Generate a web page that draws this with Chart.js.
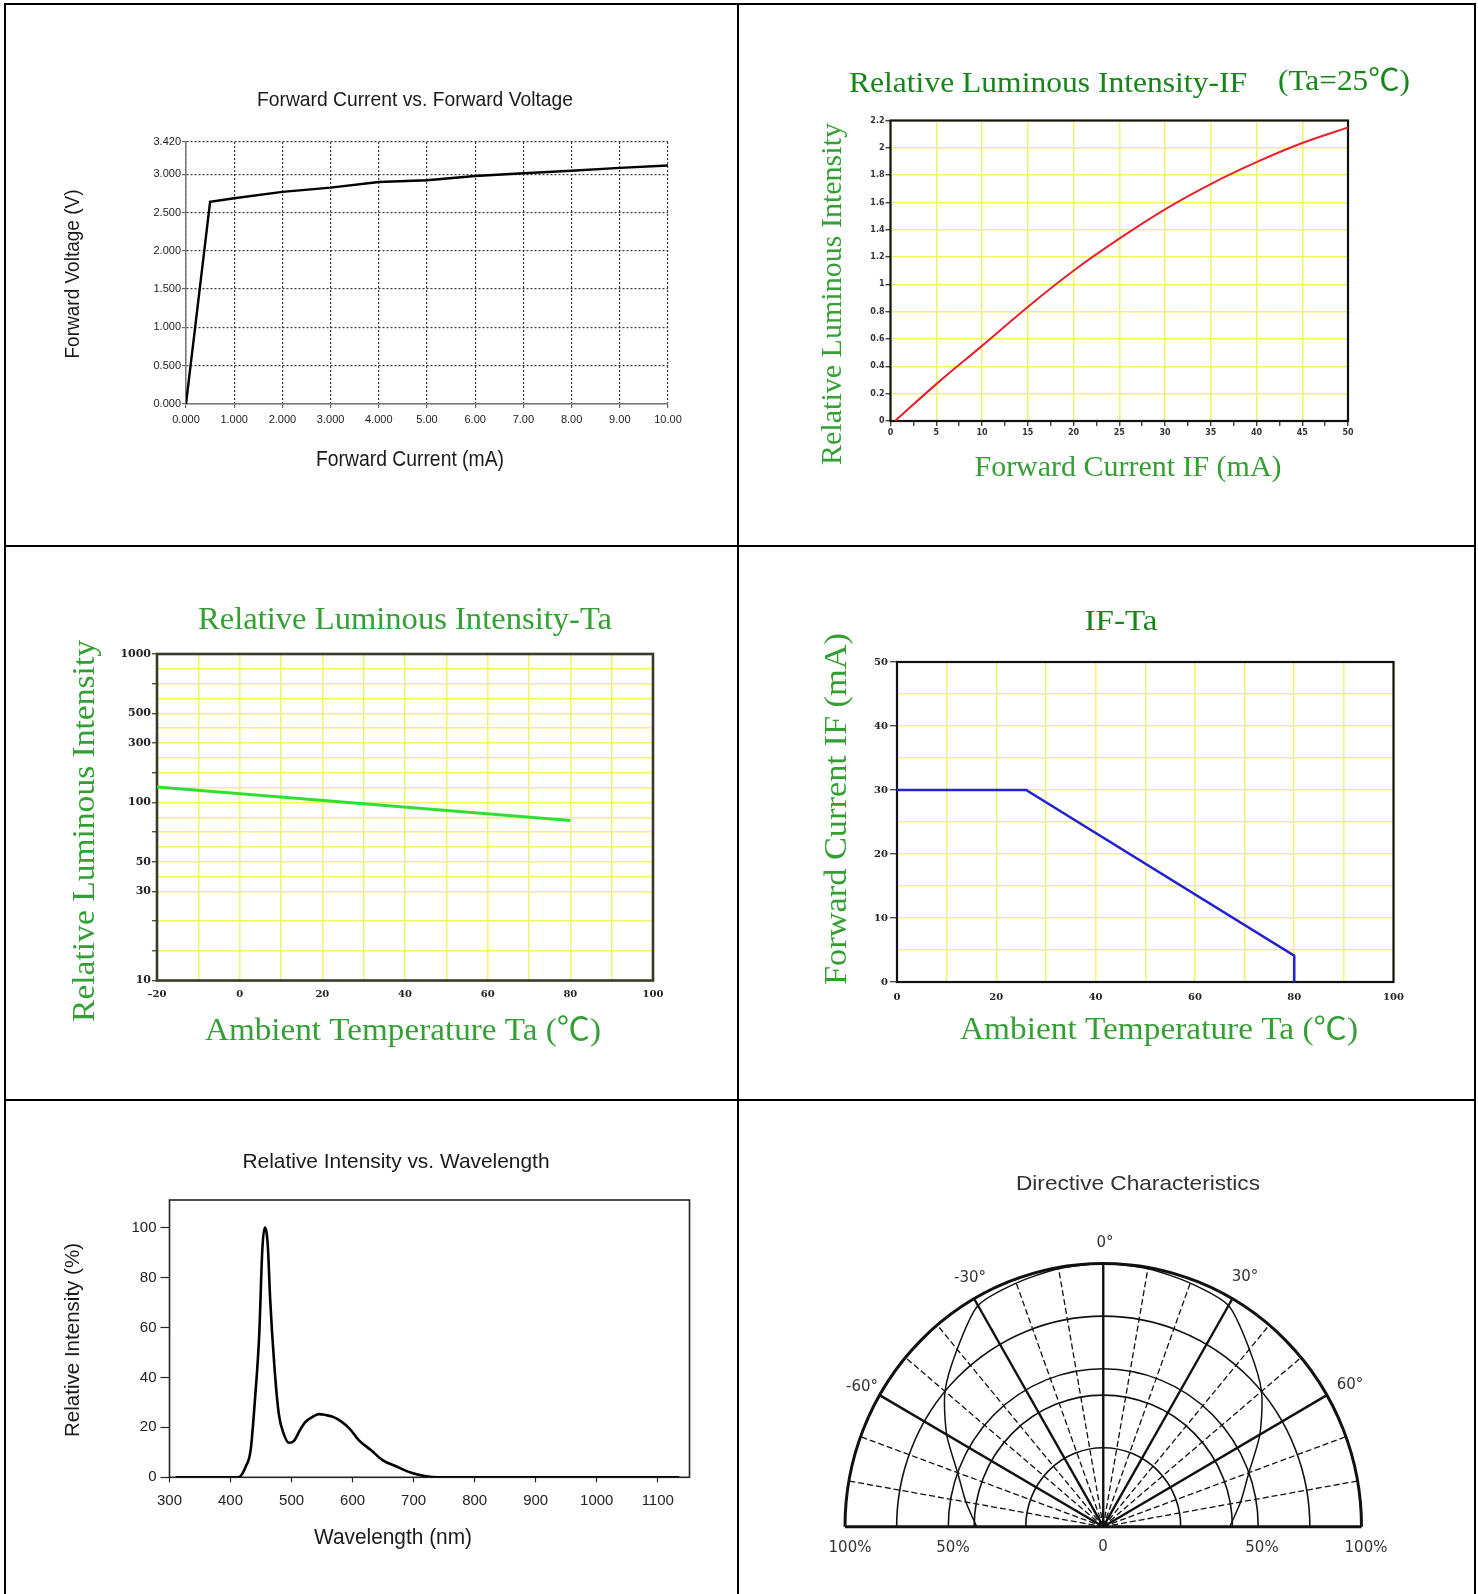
<!DOCTYPE html>
<html><head><meta charset="utf-8">
<script src="https://cdn.jsdelivr.net/npm/chart.js@4.4.1/dist/chart.umd.min.js"></script>
<style>
html,body{margin:0;padding:0;background:#fff;}
#page{position:relative;width:1478px;height:1594px;overflow:hidden;background:#fff;}
canvas{position:absolute;}
.ln{position:absolute;background:#000;z-index:5;}
</style></head><body><div id="page">
<canvas id="c1" width="738" height="546" style="left:0px;top:0px"></canvas>
<canvas id="c2" width="740" height="546" style="left:738px;top:0px"></canvas>
<canvas id="c3" width="738" height="554" style="left:0px;top:546px"></canvas>
<canvas id="c4" width="740" height="554" style="left:738px;top:546px"></canvas>
<canvas id="c5" width="738" height="494" style="left:0px;top:1100px"></canvas>
<canvas id="c6" width="740" height="494" style="left:738px;top:1100px"></canvas>
<div class="ln" style="left:4px;top:3px;width:1472px;height:2px"></div>
<div class="ln" style="left:4px;top:3px;width:2px;height:1591px"></div>
<div class="ln" style="left:1474px;top:3px;width:2px;height:1591px"></div>
<div class="ln" style="left:737px;top:3px;width:2px;height:1591px"></div>
<div class="ln" style="left:4px;top:545px;width:1472px;height:2px"></div>
<div class="ln" style="left:4px;top:1099px;width:1472px;height:2px"></div>
</div>
<script>
// ---------- DATA ----------
// 1. Forward Current vs. Forward Voltage
const fvCurrent = [0, 0.5, 1, 2, 3, 4, 5, 6, 7, 8, 9, 10];
const fvVoltage = [0, 2.64, 2.686, 2.769, 2.824, 2.898, 2.921, 2.976, 3.013, 3.045, 3.082, 3.114];
const fvXTicks = [0, 1, 2, 3, 4, 5, 6, 7, 8, 9, 10];
const fvXTickLabels = ['0.000','1.000','2.000','3.000','4.000','5.00','6.00','7.00','8.00','9.00','10.00'];
const fvYTicks = [0, 0.5, 1.0, 1.5, 2.0, 2.5, 3.0, 3.42];
const fvYTickLabels = ['0.000','0.500','1.000','1.500','2.000','2.500','3.000','3.420'];

// 2. Relative Luminous Intensity - IF
const livCurrent = [0.5, 5, 10, 15, 20, 25, 30, 35, 40, 45, 50];
const livIntensity = [0, 0.27, 0.55, 0.835, 1.10, 1.335, 1.55, 1.735, 1.895, 2.035, 2.15];

// 3. Relative Luminous Intensity - Ta
const litTemp = [-20, 80];
const litIntensity = [133, 81];
const litYTickValues = [1000, 500, 300, 100, 50, 30, 10];
const litYTickSlots = [0, 2, 3, 5, 7, 8, 11];
const litYTickLabels = ['1000', '500', '300', '100', '50', '30', '10'];
const litXTickValues = [-20, 0, 20, 40, 60, 80, 100];
const litXTickLabels = ['\u201320', '0', '20', '40', '60', '80', '100'];

// 4. IF - Ta
const ifTemp = [0, 26, 80, 80];
const ifCurrent = [30, 30, 4.1, 0];

// 5. Relative Intensity vs. Wavelength
const specWl = [310, 413, 425, 433, 440, 447, 452, 456, 461, 465, 472, 479, 487, 496, 504, 514, 522, 533, 545, 556, 568, 580, 595, 610, 630, 649, 672, 695, 718, 740, 1135];
const specVal = [0, 0, 4.3, 11, 31, 57, 90.7, 100, 93, 71, 44, 25.5, 17.5, 13.8, 14.6, 19, 22, 24, 25.3, 24.9, 24.2, 22.6, 19.5, 14.9, 10.9, 6.9, 4.3, 1.9, 0.5, 0, 0];
const specXTicks = [300, 400, 500, 600, 700, 800, 900, 1000, 1100];
const specYTicks = [0, 20, 40, 60, 80, 100];

// 6. Directive Characteristics
const dirAngles = [-90, -80, -70, -60, -50, -40, -30, -20, -10, 0, 10, 20, 30, 40, 50, 60, 70, 80, 90];
const dirIntensity = [0.49, 0.54, 0.60, 0.70, 0.80, 0.88, 0.97, 0.985, 0.995, 1.0, 0.995, 0.985, 0.97, 0.88, 0.80, 0.70, 0.60, 0.54, 0.49];
const dirRings = [0.3, 0.5, 0.6, 0.8, 1.0];
const dirSpokes = [-80, -70, -60, -50, -40, -30, -20, -10, 0, 10, 20, 30, 40, 50, 60, 70, 80];

// ---------- HELPERS ----------
const SANSN = "'Liberation Sans Narrow','Arial Narrow','Liberation Sans',Arial,sans-serif";
const SANS = "'Liberation Sans',Arial,sans-serif";
const SERIF = "'Liberation Serif','Times New Roman','Noto Sans CJK SC',serif";
const GREEN_D = '#16861a';
const GREEN_L = '#34a034';
const YEL = '#f3f36a';
const NONE = 'rgba(0,0,0,0)';
const YW = 60, XH = 40;

function pts(xs, ys) { return xs.map((x, i) => ({x: x, y: ys[i]})); }

function textPlugin(items, cell) {
  return {
    id: 'texts',
    afterDraw(chart) {
      const ctx = chart.ctx;
      for (const t of items) {
        ctx.save();
        ctx.font = t.font;
        ctx.fillStyle = t.color || '#222';
        ctx.textAlign = t.align || 'center';
        ctx.textBaseline = 'middle';
        ctx.translate(t.x - cell.x, t.y - cell.y);
        if (t.rot) ctx.rotate(t.rot * Math.PI / 180);
        if (t.w) { const m = ctx.measureText(t.text).width; ctx.scale(t.w / m, 1); }
        ctx.fillText(t.text, 0, 0);
        ctx.restore();
      }
    }
  };
}
function framePlugin(color, width) {
  return {
    id: 'frame',
    beforeDatasetsDraw(chart) {
      const a = chart.chartArea, ctx = chart.ctx;
      ctx.save(); ctx.strokeStyle = color; ctx.lineWidth = width;
      ctx.strokeRect(a.left, a.top, a.right - a.left, a.bottom - a.top);
      ctx.restore();
    }
  };
}
function makeChart(id, cell, plot, yw, xh, datasets, scales, texts, plugins) {
  const padding = {left: plot.l - cell.x - yw, top: plot.t - cell.y, right: cell.x + cell.w - plot.r, bottom: cell.y + cell.h - plot.b - xh};
  if (scales.x.display !== false) scales.x.afterFit = s => { s.height = xh; };
  if (scales.y.display !== false) scales.y.afterFit = s => { s.width = yw; };
  return new Chart(document.getElementById(id), {
    type: 'line',
    data: {datasets: datasets},
    options: {
      responsive: false, animation: false, devicePixelRatio: 1, events: [],
      layout: {padding: padding}, scales: scales,
      plugins: {legend: {display: false}, tooltip: {enabled: false}, title: {display: false}}
    },
    plugins: (plugins || []).concat([textPlugin(texts, cell)])
  });
}

// ---------- custom piecewise-log scale for chart 3 ----------
const LIT_SLOTS = 11;
const L10 = Math.log10;
function litValueToSlot(v) {
  const vals = litYTickValues, sl = litYTickSlots;
  for (let i = 0; i < vals.length - 1; i++) {
    if (v <= vals[i] && v >= vals[i + 1]) {
      const f = (L10(vals[i]) - L10(v)) / (L10(vals[i]) - L10(vals[i + 1]));
      return sl[i] + f * (sl[i + 1] - sl[i]);
    }
  }
  return v > vals[0] ? sl[0] : sl[sl.length - 1];
}
function litSlotToValue(s) {
  const vals = litYTickValues, sl = litYTickSlots;
  for (let i = 0; i < sl.length - 1; i++) {
    if (s >= sl[i] && s <= sl[i + 1]) {
      const f = (s - sl[i]) / (sl[i + 1] - sl[i]);
      return Math.pow(10, L10(vals[i]) + f * (L10(vals[i + 1]) - L10(vals[i])));
    }
  }
  return s < 0 ? vals[0] : vals[vals.length - 1];
}
const litGridSlots = [];
for (let s = 0; s <= 8; s += 0.5) litGridSlots.push(s);
litGridSlots.push(9, 10, 11);

class PiecewiseLogScale extends Chart.LinearScale {
  buildTicks() { return litGridSlots.map(s => ({value: litSlotToValue(s)})); }
  getPixelForValue(value) {
    if (value === null || value === undefined || isNaN(value)) return NaN;
    return this.getPixelForDecimal(1 - litValueToSlot(value) / LIT_SLOTS);
  }
  getValueForPixel(pixel) { return litSlotToValue((1 - this.getDecimalForPixel(pixel)) * LIT_SLOTS); }
}
PiecewiseLogScale.id = 'piecewiseLog';
PiecewiseLogScale.defaults = {};
Chart.register(PiecewiseLogScale);

// ---------- CHART 1 ----------
const cell1 = {x: 0, y: 0, w: 738, h: 546};
makeChart('c1', cell1, {l: 186, t: 142, r: 668, b: 404}, YW, XH,
  [{data: pts(fvCurrent, fvVoltage), borderColor: '#000', borderWidth: 2.4, pointRadius: 0, tension: 0}],
  {
    x: {type: 'linear', min: 0, max: 10,
      afterBuildTicks: s => { s.ticks = fvXTicks.map(v => ({value: v})); },
      ticks: {autoSkip: false, maxRotation: 0, padding: 5, color: '#222', font: {family: SANSN, size: 11},
        callback: (v, i) => fvXTickLabels[i]},
      grid: {color: '#3a3a3a', lineWidth: 1.2, tickLength: 4, tickColor: '#666'},
      border: {display: true, color: '#777', width: 1.5, dash: [2, 2]}},
    y: {type: 'linear', min: 0, max: 3.42,
      afterBuildTicks: s => { s.ticks = fvYTicks.map(v => ({value: v})); },
      ticks: {autoSkip: false, padding: 1, color: '#222', font: {family: SANSN, size: 11},
        callback: (v, i) => fvYTickLabels[i]},
      grid: {color: '#3a3a3a', lineWidth: 1.2, tickLength: 4, tickColor: '#666'},
      border: {display: true, color: '#777', width: 1.5, dash: [2, 2]}}
  },
  [
    {text: 'Forward Current vs. Forward Voltage', x: 415, y: 100, font: '21px ' + SANSN, w: 316, color: '#1a1a1a'},
    {text: 'Forward Voltage (V)', x: 73, y: 274, rot: -90, font: '21px ' + SANSN, w: 169, color: '#1a1a1a'},
    {text: 'Forward Current (mA)', x: 410, y: 460, font: '22px ' + SANSN, w: 188, color: '#1a1a1a'}
  ]);

// ---------- CHART 2 ----------
const cell2 = {x: 738, y: 0, w: 740, h: 546};
makeChart('c2', cell2, {l: 890.5, t: 120.5, r: 1348, b: 421}, YW, XH,
  [{data: pts(livCurrent, livIntensity), borderColor: '#e8222c', borderWidth: 2, pointRadius: 0, cubicInterpolationMode: 'monotone'}],
  {
    x: {type: 'linear', min: 0, max: 50,
      ticks: {stepSize: 2.5, autoSkip: false, maxRotation: 0, padding: 2, color: '#333', font: {family: "'DejaVu Sans',sans-serif", size: 8, weight: 'bold'},
        callback: v => (Math.abs(v % 5) < 1e-9 ? String(v) : '')},
      grid: {color: c => (c.tick && Math.abs(c.tick.value % 5) < 1e-9 ? YEL : NONE), lineWidth: 1.5, tickLength: 5, tickColor: '#222', tickWidth: 1.2},
      border: {display: false}},
    y: {type: 'linear', min: 0, max: 2.2,
      ticks: {stepSize: 0.2, autoSkip: false, padding: 1, color: '#333', font: {family: "'DejaVu Sans',sans-serif", size: 8, weight: 'bold'},
        callback: v => String(Math.round(v * 10) / 10)},
      grid: {color: YEL, lineWidth: 1.5, tickLength: 5, tickColor: '#222', tickWidth: 1.2},
      border: {display: false}}
  },
  [
    {text: 'Relative Luminous Intensity-IF', x: 849, y: 84, align: 'left', font: '30px ' + SERIF, w: 398, color: GREEN_D},
    {text: '(Ta=25\u2103)', x: 1278, y: 82, align: 'left', font: '30px ' + SERIF, w: 132, color: GREEN_D},
    {text: 'Relative Luminous Intensity', x: 833, y: 294, rot: -90, font: '30px ' + SERIF, w: 342, color: GREEN_L},
    {text: 'Forward Current IF (mA)', x: 1128, y: 468, font: '30px ' + SERIF, w: 307, color: GREEN_L}
  ],
  [framePlugin('#111', 2.2)]);

// ---------- CHART 3 ----------
const cell3 = {x: 0, y: 546, w: 738, h: 554};
const isIntSlot = v => { const s = litValueToSlot(v); return Math.abs(s - Math.round(s)) < 1e-6; };
makeChart('c3', cell3, {l: 157, t: 654, r: 653, b: 980.5}, YW, XH,
  [{data: pts(litTemp, litIntensity), borderColor: '#2fe02f', borderWidth: 3, pointRadius: 0, tension: 0}],
  {
    x: {type: 'linear', min: -20, max: 100,
      ticks: {stepSize: 10, autoSkip: false, maxRotation: 0, padding: 8, color: '#222', font: {family: "'DejaVu Serif',serif", size: 10, weight: 'bold'},
        callback: v => { const i = litXTickValues.indexOf(v); return i >= 0 ? litXTickLabels[i] : ''; }},
      grid: {color: YEL, lineWidth: 1.5, drawTicks: false},
      border: {display: false}},
    y: {type: 'piecewiseLog', min: 10, max: 1000,
      ticks: {autoSkip: false, padding: 1, color: '#222', font: {family: "'DejaVu Serif',serif", size: 11, weight: 'bold'},
        callback: v => { for (let i = 0; i < litYTickValues.length; i++) { if (Math.abs(v - litYTickValues[i]) < 1e-6 * v) return litYTickLabels[i]; } return ''; }},
      grid: {color: YEL, lineWidth: 1.5, tickLength: 5, tickColor: c => (c.tick && isIntSlot(c.tick.value) ? '#333' : NONE), tickWidth: 1.2},
      border: {display: false}}
  },
  [
    {text: 'Relative Luminous Intensity-Ta', x: 405, y: 621, font: '32px ' + SERIF, w: 414, color: GREEN_L},
    {text: 'Relative Luminous Intensity', x: 86, y: 831, rot: -90, font: '31px ' + SERIF, w: 382, color: GREEN_L},
    {text: 'Ambient Temperature Ta (\u2103)', x: 403, y: 1032, font: '32px ' + SERIF, w: 396, color: GREEN_L}
  ],
  [framePlugin('#3a3a2a', 2.6)]);

// ---------- CHART 4 ----------
const cell4 = {x: 738, y: 546, w: 740, h: 554};
makeChart('c4', cell4, {l: 897, t: 662, r: 1393.5, b: 982}, YW, XH,
  [{data: pts(ifTemp, ifCurrent), borderColor: '#2222d0', borderWidth: 2.6, pointRadius: 0, tension: 0}],
  {
    x: {type: 'linear', min: 0, max: 100,
      ticks: {stepSize: 10, autoSkip: false, maxRotation: 0, padding: 9, color: '#222', font: {family: "'DejaVu Serif',serif", size: 10, weight: 'bold'},
        callback: v => (v % 20 === 0 ? String(v) : '')},
      grid: {color: YEL, lineWidth: 1.5, drawTicks: false},
      border: {display: false}},
    y: {type: 'linear', min: 0, max: 50,
      ticks: {stepSize: 5, autoSkip: false, padding: 2, color: '#222', font: {family: "'DejaVu Serif',serif", size: 10, weight: 'bold'},
        callback: v => (v % 10 === 0 ? String(v) : '')},
      grid: {color: YEL, lineWidth: 1.5, tickLength: 7, tickColor: c => (c.tick && c.tick.value % 10 === 0 ? '#333' : NONE), tickWidth: 1.2},
      border: {display: false}}
  },
  [
    {text: 'IF-Ta', x: 1121, y: 622, font: '30px ' + SERIF, w: 73, color: GREEN_D},
    {text: 'Forward Current IF (mA)', x: 838, y: 809, rot: -90, font: '31px ' + SERIF, w: 352, color: GREEN_L},
    {text: 'Ambient Temperature Ta (\u2103)', x: 1159, y: 1031, font: '31px ' + SERIF, w: 398, color: GREEN_L}
  ],
  [framePlugin('#111', 2.2)]);

// ---------- CHART 5 ----------
const cell5 = {x: 0, y: 1100, w: 738, h: 494};
makeChart('c5', cell5, {l: 169.5, t: 1200, r: 689.5, b: 1477.3}, YW, XH,
  [{data: pts(specWl, specVal), borderColor: '#000', borderWidth: 2.6, pointRadius: 0, cubicInterpolationMode: 'monotone'}],
  {
    x: {type: 'linear', min: 300, max: 1152,
      afterBuildTicks: s => { s.ticks = specXTicks.map(v => ({value: v})); },
      ticks: {autoSkip: false, maxRotation: 0, padding: 10, color: '#222', font: {family: SANS, size: 15},
        callback: v => String(v)},
      grid: {drawOnChartArea: false, tickLength: 5, tickColor: '#222', tickWidth: 1.2},
      border: {display: false}},
    y: {type: 'linear', min: 0, max: 111,
      afterBuildTicks: s => { s.ticks = specYTicks.map(v => ({value: v})); },
      ticks: {autoSkip: false, padding: 4, color: '#222', font: {family: SANS, size: 15},
        callback: v => String(v)},
      grid: {drawOnChartArea: false, tickLength: 9, tickColor: '#222', tickWidth: 1.2},
      border: {display: false}}
  },
  [
    {text: 'Relative Intensity vs. Wavelength', x: 396, y: 1162, font: '21px ' + SANSN, w: 307, color: '#1a1a1a'},
    {text: 'Relative Intensity (%)', x: 73, y: 1340, rot: -90, font: '21px ' + SANSN, w: 194, color: '#1a1a1a'},
    {text: 'Wavelength (nm)', x: 393, y: 1538, font: '22px ' + SANSN, w: 158, color: '#1a1a1a'}
  ],
  [framePlugin('#222', 1.6)]);

// ---------- CHART 6 (polar, drawn on linear scales) ----------
const cell6 = {x: 738, y: 1100, w: 740, h: 494};
const polarGrid = {
  id: 'polarGrid',
  beforeDatasetsDraw(chart) {
    const ctx = chart.ctx, xs = chart.scales.x, ys = chart.scales.y;
    const cx = xs.getPixelForValue(0), cy = ys.getPixelForValue(0);
    const rx = xs.getPixelForValue(1) - cx, ry = cy - ys.getPixelForValue(1);
    ctx.save();
    ctx.strokeStyle = '#111';
    for (const a of dirSpokes) {
      const bold = a % 30 === 0;
      const t = a * Math.PI / 180;
      ctx.beginPath();
      ctx.setLineDash(bold ? [] : [6, 3]);
      ctx.lineWidth = bold ? 2.4 : 1.3;
      ctx.moveTo(cx, cy);
      ctx.lineTo(cx + rx * Math.sin(t), cy - ry * Math.cos(t));
      ctx.stroke();
    }
    ctx.setLineDash([]);
    for (const r of dirRings) {
      ctx.beginPath();
      ctx.lineWidth = r === 1 ? 3 : 1.6;
      ctx.ellipse(cx, cy, rx * r, ry * r, 0, Math.PI, 2 * Math.PI);
      ctx.stroke();
    }
    ctx.beginPath();
    ctx.lineWidth = 3;
    ctx.moveTo(cx - rx, cy); ctx.lineTo(cx + rx, cy);
    ctx.stroke();
    ctx.restore();
  }
};
const dirPoints = dirAngles.map((a, i) => ({x: dirIntensity[i] * Math.sin(a * Math.PI / 180), y: dirIntensity[i] * Math.cos(a * Math.PI / 180)}));
const DJ = "'DejaVu Sans',sans-serif";
makeChart('c6', cell6, {l: 845, t: 1263.5, r: 1361.5, b: 1526.7}, 0, 0,
  [{data: dirPoints, borderColor: '#111', borderWidth: 1.5, pointRadius: 0, tension: 0.25}],
  {
    x: {type: 'linear', min: -1, max: 1, display: false},
    y: {type: 'linear', min: 0, max: 1, display: false}
  },
  [
    {text: 'Directive Characteristics', x: 1138, y: 1184, font: '21px ' + SANSN, w: 244, color: '#333'},
    {text: '0\u00b0', x: 1105, y: 1243, font: '15px ' + DJ, color: '#333'},
    {text: '-30\u00b0', x: 970, y: 1278, font: '15px ' + DJ, color: '#333'},
    {text: '-60\u00b0', x: 862, y: 1387, font: '15px ' + DJ, color: '#333'},
    {text: '30\u00b0', x: 1245, y: 1277, font: '15px ' + DJ, color: '#333'},
    {text: '60\u00b0', x: 1350, y: 1385, font: '15px ' + DJ, color: '#333'},
    {text: '100%', x: 850, y: 1548, font: '15px ' + DJ, color: '#333'},
    {text: '50%', x: 953, y: 1548, font: '15px ' + DJ, color: '#333'},
    {text: '0', x: 1103, y: 1547, font: '15px ' + DJ, color: '#333'},
    {text: '50%', x: 1262, y: 1548, font: '15px ' + DJ, color: '#333'},
    {text: '100%', x: 1366, y: 1548, font: '15px ' + DJ, color: '#333'}
  ],
  [polarGrid]);
</script>
</body></html>
